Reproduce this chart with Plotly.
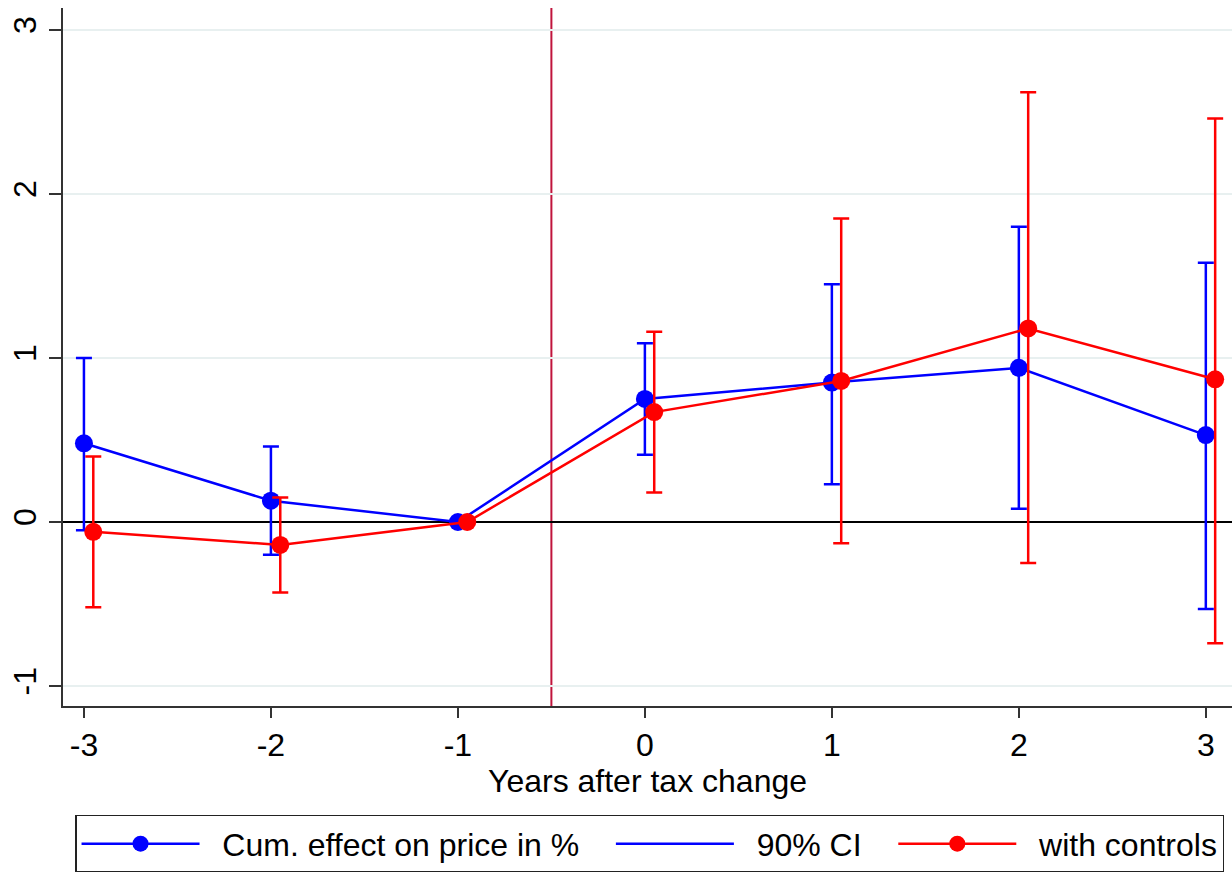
import plotly.graph_objects as go

years = [-3, -2, -1, 0, 1, 2, 3]
x_tick_labels = ["-3", "-2", "-1", "0", "1", "2", "3"]
y_ticks = [-1, 0, 1, 2, 3]

blue = [0.48, 0.13, 0.0, 0.75, 0.85, 0.94, 0.53]
blue_hi = [1.00, 0.46, 0.0, 1.09, 1.45, 1.80, 1.58]
blue_lo = [-0.05, -0.20, 0.0, 0.41, 0.23, 0.08, -0.53]

red = [-0.06, -0.14, 0.0, 0.67, 0.86, 1.18, 0.87]
red_hi = [0.40, 0.15, 0.0, 1.16, 1.85, 2.62, 2.46]
red_lo = [-0.52, -0.43, 0.0, 0.18, -0.13, -0.25, -0.74]

series_names = ["Cum. effect on price in %", "90% CI", "with controls"]

red_offset = 0.05
event_line = -0.5

BLUE = "#0000FF"
RED = "#FF0000"
FONT = "Liberation Sans, Arial, sans-serif"
NB = "\u00a0"


def legend_label(text, trailing):
    return NB * 2 + text + NB * trailing


fig = go.Figure()

fig.add_trace(go.Scatter(
    x=years, y=blue, mode="lines+markers", name=legend_label(series_names[0], 3),
    line=dict(color=BLUE, width=2.5), marker=dict(color=BLUE, size=18),
    error_y=dict(type="data", symmetric=False,
                 array=[h - v for h, v in zip(blue_hi, blue)],
                 arrayminus=[v - l for l, v in zip(blue_lo, blue)],
                 color=BLUE, thickness=2.5, width=8),
))
fig.add_trace(go.Scatter(
    x=[None], y=[None], mode="lines", name=legend_label(series_names[1], 3),
    line=dict(color=BLUE, width=2.5),
))
fig.add_trace(go.Scatter(
    x=[x + red_offset for x in years], y=red, mode="lines+markers", name=legend_label(series_names[2], 0),
    line=dict(color=RED, width=2.5), marker=dict(color=RED, size=18),
    error_y=dict(type="data", symmetric=False,
                 array=[h - v for h, v in zip(red_hi, red)],
                 arrayminus=[v - l for l, v in zip(red_lo, red)],
                 color=RED, thickness=2.5, width=8),
))

fig.add_shape(type="line", xref="x", yref="paper", x0=event_line, x1=event_line, y0=0, y1=1,
              line=dict(color="#C0143C", width=2), layer="below")

fig.update_layout(
    width=1232, height=872,
    margin=dict(l=63, r=0, t=8, b=166, autoexpand=False),
    paper_bgcolor="white", plot_bgcolor="white",
    font=dict(family=FONT, size=32, color="black"),
    showlegend=True,
    legend=dict(
        orientation="h", x=0.0103, y=-0.156, xanchor="left", yanchor="top",
        bordercolor="#222", borderwidth=1.5, bgcolor="white",
        font=dict(size=32), itemwidth=118, tracegroupgap=0,
    ),
    xaxis=dict(
        range=[-3.112, 3.14], tickvals=years, ticktext=x_tick_labels, automargin=False,
        showgrid=False, zeroline=False, showline=True, linecolor="#333", linewidth=1.5,
        ticks="outside", ticklen=10, tickwidth=1.5, tickcolor="#333",
        tickfont=dict(size=32), title=dict(text="Years after tax change", font=dict(size=32), standoff=6),
    ),
    yaxis=dict(
        range=[-1.122, 3.134], tickvals=y_ticks, ticktext=[str(v) for v in y_ticks], automargin=False,
        tickangle=-90, showgrid=True, gridcolor="#E8F0F0", gridwidth=2,
        zeroline=True, zerolinecolor="black", zerolinewidth=2,
        showline=True, linecolor="#333", linewidth=1.5,
        ticks="outside", ticklen=12, tickwidth=1.5, tickcolor="#333",
        tickfont=dict(size=32),
    ),
)

fig.write_html("out.html", config={"displayModeBar": False},
               post_script="document.body.style.margin='0';")
